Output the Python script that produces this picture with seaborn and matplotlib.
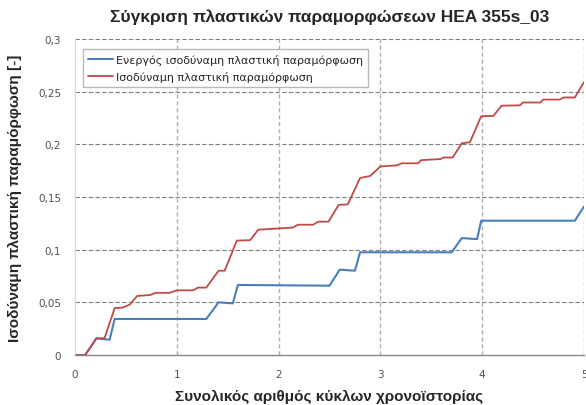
import matplotlib
matplotlib.use("Agg")
import matplotlib.pyplot as plt
import seaborn as sns
import pandas as pd

# breakpoints
red_x = [0, 0.10, 0.21, 0.29, 0.39, 0.47, 0.54, 0.61, 0.74, 0.79, 0.93, 1.00, 1.16, 1.21, 1.29,
         1.41, 1.47, 1.59, 1.72, 1.80, 1.98, 2.14, 2.19, 2.34, 2.39, 2.49, 2.59, 2.68, 2.80,
         2.90, 3.00, 3.16, 3.21, 3.37, 3.40, 3.59, 3.62, 3.71, 3.80, 3.88, 3.99, 4.11, 4.19,
         4.37, 4.40, 4.57, 4.60, 4.76, 4.80, 4.91, 5.00]
red_y = [0, 0, 0.0158, 0.016, 0.0446, 0.045, 0.048, 0.056, 0.057, 0.059, 0.059, 0.0614, 0.0614,
         0.064, 0.064, 0.080, 0.080, 0.1086, 0.109, 0.119, 0.120, 0.121, 0.1237, 0.1237, 0.1266,
         0.1266, 0.1425, 0.143, 0.168, 0.170, 0.179, 0.180, 0.182, 0.182, 0.185, 0.186, 0.1875,
         0.1875, 0.201, 0.202, 0.2267, 0.227, 0.2367, 0.237, 0.2397, 0.2397, 0.2425, 0.2425,
         0.2445, 0.2445, 0.259]

blue_x = [0, 0.10, 0.21, 0.34, 0.39, 1.29, 1.41, 1.55, 1.60, 2.50, 2.60, 2.75, 2.80, 3.70,
          3.80, 3.95, 3.99, 4.91, 5.00]
blue_y = [0, 0, 0.0158, 0.0145, 0.0342, 0.0342, 0.050, 0.049, 0.0665, 0.0658, 0.081, 0.080,
          0.0975, 0.0975, 0.111, 0.110, 0.1275, 0.1275, 0.141]

blue_label = "Ενεργός ισοδύναμη πλαστική παραμόρφωση"
red_label = "Ισοδύναμη πλαστική παραμόρφωση"

x_ticks = [0, 1, 2, 3, 4, 5]
y_ticks = [0, 0.05, 0.1, 0.15, 0.2, 0.25, 0.3]
y_tick_labels = ["0", "0,05", "0,1", "0,15", "0,2", "0,25", "0,3"]

df_red = pd.DataFrame({"x": red_x, "y": red_y})
df_blue = pd.DataFrame({"x": blue_x, "y": blue_y})

sns.set_style("white")
plt.rcParams['font.family'] = ['DejaVu Sans']

fig = plt.figure(figsize=(5.86, 4.06), dpi=100)
ax = fig.add_axes([75 / 586, 1 - 356 / 406, 509 / 586, 316 / 406])

sns.lineplot(x="x", y="y", data=df_blue, ax=ax, color="#4a7ebb", linewidth=1.5,
             label=blue_label, sort=False)
sns.lineplot(x="x", y="y", data=df_red, ax=ax, color="#be4b48", linewidth=1.3,
             label=red_label, sort=False)

ax.set_xlim(0, 5)
ax.set_ylim(0, 0.3)
ax.set_xticks(x_ticks)
ax.set_xticklabels([str(t) for t in x_ticks])
ax.set_yticks(y_ticks)
ax.set_yticklabels(y_tick_labels)

# gridlines: horizontal darker dashes, vertical lighter
ax.grid(False)
for yv in y_ticks[1:]:
    ax.axhline(yv, color="#808080", linewidth=0.8, linestyle=(0, (4, 2)), zorder=0)
for xv in x_ticks[1:]:
    ax.axvline(xv, color="#b0b0b0", linewidth=1.0, linestyle=(0, (3, 2)), zorder=0)

for s in ["top", "right"]:
    ax.spines[s].set_visible(False)
ax.spines["left"].set_color("#d9d9d9")
ax.spines["bottom"].set_color("#868686")
ax.spines["bottom"].set_linewidth(1.0)

ax.tick_params(axis="both", labelsize=7.5, colors="#505050", length=4, pad=6)
ax.tick_params(axis="x", color="#b0b0b0")
ax.tick_params(axis="y", color="#808080")

fig.text(0.5 * (75 + 584) / 586, 1 - 17 / 406, "Σύγκριση πλαστικών παραμορφώσεων HEA 355s_03",
         ha="center", va="center", fontsize=12.5, fontweight="bold", family="Liberation Sans")
ax.set_xlabel("Συνολικός αριθμός κύκλων χρονοϊστορίας", fontsize=11, fontweight="bold",
              family="Liberation Sans")
ax.xaxis.set_label_coords(0.5, (356 - 397) / 316)
ax.xaxis.label.set_va("center")
ax.set_ylabel("Ισοδύναμη πλαστική παραμόρφωση [-]", fontsize=11, fontweight="bold",
              family="Liberation Sans")
ax.yaxis.set_label_coords((15 - 75) / 509, 0.5)
ax.yaxis.label.set_va("center")

leg = ax.legend(loc="upper left", bbox_to_anchor=(0.016, 0.968), fontsize=8, frameon=True,
                fancybox=False, borderpad=0.45, handlelength=2.2, handletextpad=0.3,
                labelspacing=0.55, borderaxespad=0)
leg.get_frame().set_edgecolor("#a6a6a6")
leg.get_frame().set_linewidth(1.0)

fig.savefig("out.png", dpi=100)
